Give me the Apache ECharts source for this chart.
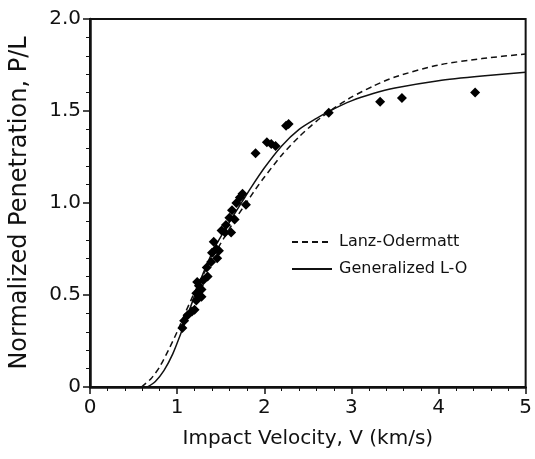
<!DOCTYPE html>
<html>
<head>
<meta charset="utf-8">
<script src="https://cdn.jsdelivr.net/npm/echarts@6/dist/echarts.min.js"></script>
<style>html,body{margin:0;padding:0;background:#fff}#c{width:535px;height:459px}</style>
</head>
<body>
<div id="c"></div>
<script>
// Measured data points [V km/s, P/L]
const points = [
  [1.06,0.32],[1.08,0.36],[1.12,0.39],[1.17,0.41],[1.20,0.42],[1.22,0.47],[1.22,0.51],
  [1.25,0.55],[1.28,0.53],[1.28,0.49],[1.23,0.57],[1.30,0.58],[1.35,0.60],[1.34,0.65],
  [1.39,0.68],[1.46,0.70],[1.40,0.73],[1.45,0.75],[1.48,0.74],[1.42,0.79],[1.51,0.85],
  [1.55,0.84],[1.56,0.88],[1.60,0.92],[1.62,0.84],[1.63,0.96],[1.66,0.91],[1.68,1.00],
  [1.72,1.03],[1.75,1.05],[1.79,0.99],[1.90,1.27],[2.03,1.33],[2.08,1.32],[2.13,1.31],
  [2.25,1.42],[2.28,1.43],[2.74,1.49],[3.33,1.55],[3.58,1.57],[4.42,1.60]
];
// Lanz-Odermatt curve (dashed)
const lanzOdermatt = [
  [0.59,0],[0.7,0.045],[0.8,0.11],[0.9,0.20],[1.0,0.30],[1.1,0.41],[1.2,0.515],[1.3,0.61],
  [1.4,0.70],[1.5,0.78],[1.6,0.86],[1.7,0.935],[1.8,1.005],[1.9,1.075],[2.0,1.14],[2.2,1.26],
  [2.4,1.36],[2.6,1.445],[2.8,1.515],[3.0,1.575],[3.25,1.635],[3.5,1.685],[4.0,1.75],
  [4.5,1.785],[5.0,1.81]
];
// Generalized L-O curve (solid)
const generalizedLO = [
  [0.66,0],[0.75,0.03],[0.85,0.09],[0.95,0.18],[1.05,0.30],[1.15,0.43],[1.25,0.56],[1.35,0.675],
  [1.45,0.775],[1.55,0.855],[1.65,0.935],[1.75,1.01],[1.85,1.085],[2.0,1.19],[2.2,1.31],
  [2.4,1.40],[2.6,1.46],[2.75,1.50],[3.0,1.555],[3.25,1.595],[3.5,1.625],[4.0,1.665],
  [4.5,1.69],[5.0,1.71]
];
const seriesNames = ['Lanz-Odermatt','Generalized L-O'];
const xLabel = 'Impact Velocity, V (km/s)';
const yLabel = 'Normalized Penetration, P/L';

const font = 'DejaVu Sans, Liberation Sans, Arial, sans-serif';
const ink = '#111';
const chart = echarts.init(document.getElementById('c'), null, {renderer:'canvas'});
chart.setOption({
  animation:false,
  backgroundColor:'#fff',
  grid:{left:90,right:7,top:19,bottom:72,show:true,borderColor:ink,borderWidth:2,backgroundColor:'transparent'},
  legend:{
    data:seriesNames, orient:'vertical', left:286, top:229, itemWidth:40, itemHeight:12, itemGap:11,
    itemStyle:{opacity:0},
    textStyle:{fontFamily:font,fontSize:16,color:ink,padding:[0,0,0,2]}
  },
  xAxis:{
    type:'value', min:0, max:5, interval:1,
    name:xLabel, nameLocation:'middle', nameGap:42,
    nameTextStyle:{fontFamily:font,fontSize:20,color:ink},
    axisLine:{show:true,lineStyle:{color:ink,width:2.5}},
    axisTick:{show:true,inside:false,length:7,lineStyle:{color:ink,width:1.5}},
    minorTick:{show:true,splitNumber:5,length:4,lineStyle:{color:ink,width:1}},
    axisLabel:{fontFamily:font,fontSize:20,color:ink,margin:11},
    splitLine:{show:false}
  },
  yAxis:{
    type:'value', min:0, max:2, interval:0.5,
    name:yLabel, nameLocation:'middle', nameGap:58,
    nameTextStyle:{fontFamily:font,fontSize:24,color:ink},
    axisLine:{show:true,lineStyle:{color:ink,width:2.5}},
    axisTick:{show:true,inside:false,length:7,lineStyle:{color:ink,width:1.5}},
    minorTick:{show:true,splitNumber:5,length:4,lineStyle:{color:ink,width:1}},
    axisLabel:{fontFamily:font,fontSize:20,color:ink,margin:9,
      formatter:v=> v===0 ? '0' : v.toFixed(1)},
    splitLine:{show:false}
  },
  series:[
    {name:seriesNames[0],type:'line',data:lanzOdermatt,smooth:0.25,symbol:'none',
     lineStyle:{color:ink,width:1.5,type:[6,4]},itemStyle:{color:ink},z:3},
    {name:seriesNames[1],type:'line',data:generalizedLO,smooth:0.25,symbol:'none',
     lineStyle:{color:ink,width:1.5,type:'solid'},itemStyle:{color:ink},z:3},
    {name:'data',type:'scatter',data:points,symbol:'diamond',symbolSize:10,
     itemStyle:{color:'#000',opacity:1},z:4}
  ]
});
</script>
</body>
</html>
